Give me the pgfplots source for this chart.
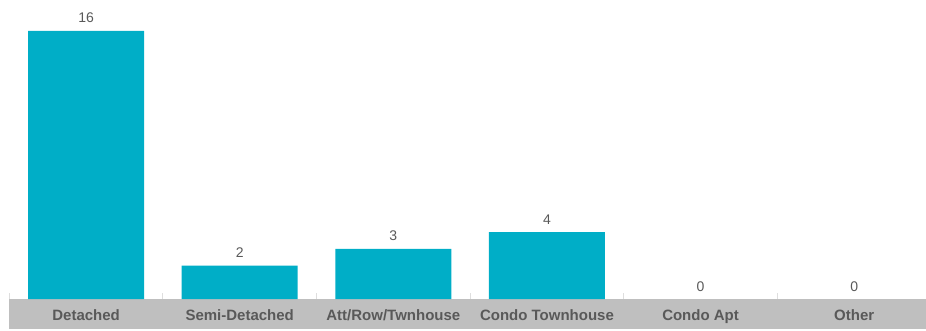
\documentclass[border=0pt]{standalone}
\usepackage{pgfplots}
\pgfplotsset{compat=1.18}
\usepackage{fontspec}
\setmainfont{Liberation Sans}
\definecolor{barc}{RGB}{0,174,199}
\definecolor{band}{RGB}{191,191,191}
\definecolor{txt}{RGB}{89,89,89}
\definecolor{sep}{RGB}{222,222,222}
\begin{document}
\begin{tikzpicture}
\useasboundingbox (-9.3pt,-31pt) rectangle (916.7pt,299pt);
\fill[band] (0pt,0pt) rectangle (916.7pt,-30pt);
\begin{axis}[
  at={(0,0)}, anchor=south west,
  scale only axis, width=916.7pt, height=299pt,
  xmin=-0.5, xmax=5.4675, ymin=0, ymax=17.85,
  axis x line=bottom, axis y line=none,
  axis line style={-, draw=none},
  ybar, bar width=116pt, bar shift=0pt,
  xtick={0,1,2,3,4,5},
  xticklabels={Detached,Semi-Detached,Att/Row/Twnhouse,Condo Townhouse,Condo Apt,Other},
  major tick length=0pt,
  xticklabel style={anchor=base, yshift=-21.5pt, font=\fontsize{15}{17}\selectfont\bfseries, text=txt},
  extra x ticks={-0.5,0.5,1.5,2.5,3.5,4.5},
  extra x tick labels={},
  extra x tick style={major tick length=6pt, tick align=inside, xtick pos=bottom, tick style={draw=sep, line width=1pt}},
  /pgf/number format/assume math mode=true,
  nodes near coords,
  nodes near coords style={anchor=base, yshift=8pt, font=\fontsize{14}{16}\selectfont, text=txt},
]
\addplot[fill=barc, draw=none] coordinates {(0,16) (1,2) (2,3) (3,4)};
\addplot[fill=none, draw=none] coordinates {(4,0) (5,0)};
\end{axis}
\end{tikzpicture}
\end{document}
